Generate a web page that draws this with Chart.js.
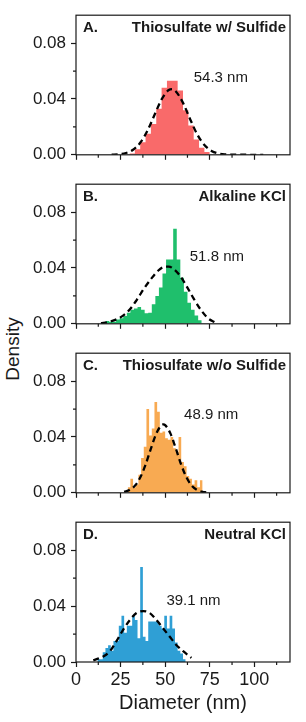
<!DOCTYPE html>
<html>
<head>
<meta charset="utf-8">
<script src="https://cdn.jsdelivr.net/npm/chart.js@4.4.1/dist/chart.umd.min.js"></script>
<style>
  body { margin: 0; background: #fff; width: 306px; height: 722px; position: relative; overflow: hidden; font-family: "Liberation Sans", Arial, sans-serif; }
  .panel { position: absolute; left: 0; width: 306px; }
  #density { position: absolute; left: 13px; top: 349px; transform: translate(-50%, -50%) rotate(-90deg); font-size: 19px; color: #1a1a1a; white-space: nowrap; }
</style>
</head>
<body>
<div id="density">Density</div>
<div class="panel" style="top:0px;height:170px"><canvas id="panelA"></canvas></div>
<div class="panel" style="top:169px;height:170px"><canvas id="panelB"></canvas></div>
<div class="panel" style="top:338px;height:170px"><canvas id="panelC"></canvas></div>
<div class="panel" style="top:507px;height:215px"><canvas id="panelD"></canvas></div>
<script>
// panel text
const panelLetters = ['A.', 'B.', 'C.', 'D.'];
const panelTitles = ['Thiosulfate w/ Sulfide', 'Alkaline KCl', 'Thiosulfate w/o Sulfide', 'Neutral KCl'];
const meanLabels = ['54.3 nm', '51.8 nm', '48.9 nm', '39.1 nm'];

// axis ticks
const xTicks = [0, 25, 50, 75, 100];
const yTicks = [0, 0.04, 0.08];
const xMinor = [12.5, 37.5, 62.5, 87.5, 112.5];
const yMinor = [0.02, 0.06];

// histogram bin edges (nm) and densities, one more edge than heights
const edgesA = [30, 33, 36, 39, 42, 45, 48, 51, 54, 57, 60, 63, 66, 69, 72, 75];
const densA = [0.001, 0.004, 0.009, 0.015, 0.022, 0.033, 0.048, 0.053, 0.053, 0.046, 0.032, 0.021, 0.011, 0.005, 0.002];
const fitXA = [20, 24, 28, 32, 36, 40, 44, 48, 52, 54, 56, 60, 64, 68, 72, 76, 80, 84, 90, 100, 105];
const fitYA = [0.0001, 0.0004, 0.0013, 0.0036, 0.0086, 0.0171, 0.0285, 0.0397, 0.0464, 0.047, 0.0454, 0.0372, 0.0255, 0.0146, 0.007, 0.0028, 0.0009, 0.0003, 0.0001, 0, 0];

const edgesB = [14.5, 16.5, 18.5, 20.5, 22.5, 24.5, 26.5, 28.5, 30.5, 32.5, 34.5, 36.5, 38.5, 40.5, 42.5, 44.5, 46.5, 48.5, 50.5, 52.5, 54.5, 56.5, 58.5, 60.5, 62.5, 64.5, 66.5, 68.5, 70.5];
const densB = [0.001, 0.002, 0.0015, 0.0015, 0.003, 0.004, 0.0055, 0.008, 0.010, 0.011, 0.012, 0.010, 0.0075, 0.008, 0.014, 0.020, 0.026, 0.036, 0.046, 0.046, 0.068, 0.046, 0.033, 0.023, 0.015, 0.010, 0.006, 0.0026];
const fitXB = [14, 18, 22, 26, 30, 34, 38, 42, 46, 50, 52, 54, 58, 62, 66, 70, 74, 78];
const fitYB = [0.0005, 0.0012, 0.0028, 0.0055, 0.010, 0.017, 0.025, 0.032, 0.038, 0.041, 0.041, 0.040, 0.035, 0.027, 0.018, 0.010, 0.004, 0.001];

const edgesC = [29, 30.5, 32, 33.5, 35, 36.5, 38, 39.5, 41, 42.5, 44, 45.5, 47, 48.5, 50, 51.5, 53, 54.5, 56, 57.5, 59, 60.5, 62, 63.5, 65, 66.5, 68, 69.5, 71];
const densC = [0.004, 0.010, 0.004, 0.006, 0.013, 0.025, 0.033, 0.060, 0.041, 0.046, 0.065, 0.058, 0.043, 0.044, 0.039, 0.038, 0.040, 0.032, 0.029, 0.040, 0.022, 0.019, 0.012, 0.010, 0.006, 0.009, 0.004, 0.009];
const fitXC = [27, 30, 33, 36, 39, 42, 45, 48, 49, 50, 53, 56, 59, 62, 65, 68, 71, 73];
const fitYC = [0.0007, 0.002, 0.005, 0.0109, 0.0201, 0.0316, 0.0424, 0.0485, 0.049, 0.0485, 0.0424, 0.0316, 0.0201, 0.0109, 0.005, 0.002, 0.0007, 0.0003];

const edgesD = [12, 13.5, 15, 16.5, 18, 19.5, 21, 22.5, 24, 25.5, 27, 28.5, 30, 31.5, 33, 34.5, 36, 37.5, 39, 40.5, 42, 43.5, 45, 46.5, 48, 49.5, 51, 52.5, 54, 55.5, 57, 58.5, 60, 61.5];
const densD = [0.002, 0.002, 0.007, 0.010, 0.012, 0.008, 0.015, 0.015, 0.026, 0.033, 0.021, 0.026, 0.026, 0.033, 0.030, 0.017, 0.068, 0.018, 0.015, 0.029, 0.029, 0.029, 0.029, 0.026, 0.024, 0.033, 0.024, 0.033, 0.024, 0.014, 0.008, 0.006, 0.002];
const fitXD = [9.7, 15.3, 19, 22.7, 26.4, 30.2, 33.9, 37.7, 41.4, 45.1, 48.9, 52.6, 56.4, 60.1, 64.7];
const fitYD = [0.0012, 0.004, 0.0077, 0.0149, 0.023, 0.030, 0.035, 0.0364, 0.035, 0.030, 0.024, 0.018, 0.012, 0.0077, 0.003];

const panels = [
    { id: 'panelA', edges: edgesA, dens: densA, fitX: fitXA, fitY: fitYA, color: '#f96a6a', meanX: 66, meanY: 0.0524 },
    { id: 'panelB', edges: edgesB, dens: densB, fitX: fitXB, fitY: fitYB, color: '#1fbf6c', meanX: 63.8, meanY: 0.045 },
    { id: 'panelC', edges: edgesC, dens: densC, fitX: fitXC, fitY: fitYC, color: '#f8aa52', meanX: 60.6, meanY: 0.0529 },
    { id: 'panelD', edges: edgesD, dens: densD, fitX: fitXD, fitY: fitYD, color: '#2f9fd5', meanX: 50.7, meanY: 0.041 },
];

const ink = '#1a1a1a';
const font = '"Liberation Sans", Arial, sans-serif';

// frame, minor ticks and in-panel text
const panelDecor = {
    id: 'panelDecor',
    afterDraw(chart, args, opts) {
        const { ctx, chartArea: a, scales } = chart;
        ctx.save();
        ctx.strokeStyle = ink;
        ctx.lineWidth = 1.2;
        ctx.strokeRect(a.left, a.top, a.right - a.left, a.bottom - a.top);
        ctx.beginPath();
        xMinor.forEach(v => {
            const x = scales.x.getPixelForValue(v);
            ctx.moveTo(x, a.bottom); ctx.lineTo(x, a.bottom + 3);
        });
        yMinor.forEach(v => {
            const y = scales.y.getPixelForValue(v);
            ctx.moveTo(a.left, y); ctx.lineTo(a.left - 3, y);
        });
        ctx.stroke();
        ctx.fillStyle = ink;
        ctx.textBaseline = 'alphabetic';
        ctx.font = 'bold 15px ' + font;
        ctx.textAlign = 'left';
        ctx.fillText(opts.letter, a.left + 7, a.top + 17);
        ctx.textAlign = 'right';
        ctx.fillText(opts.title, a.right - 4, a.top + 17);
        ctx.font = '15px ' + font;
        ctx.textAlign = 'left';
        ctx.fillText(opts.mean, scales.x.getPixelForValue(opts.meanX), scales.y.getPixelForValue(opts.meanY));
        ctx.restore();
    }
};

panels.forEach((p, i) => {
    const last = i === panels.length - 1;
    const steps = p.edges.map((e, k) => ({ x: e, y: k < p.dens.length ? p.dens[k] : 0 }));
    const fit = p.fitX.map((x, k) => ({ x: x, y: p.fitY[k] }));
    new Chart(document.getElementById(p.id), {
        type: 'line',
        data: {
            datasets: [
                {
                    data: fit,
                    borderColor: '#000',
                    borderWidth: 2.3,
                    borderDash: [6, 4],
                    pointRadius: 0,
                    tension: 0.4,
                    cubicInterpolationMode: 'monotone',
                    fill: false
                },
                {
                    data: steps,
                    stepped: 'before',
                    borderWidth: 0,
                    borderColor: p.color,
                    backgroundColor: p.color,
                    pointRadius: 0,
                    fill: 'origin'
                }
            ]
        },
        options: {
            responsive: true,
            maintainAspectRatio: false,
            animation: false,
            layout: { padding: { top: 15, right: 16, left: 0, bottom: 0 } },
            plugins: {
                legend: { display: false },
                tooltip: { enabled: false },
                panelDecor: { letter: panelLetters[i], title: panelTitles[i], mean: meanLabels[i], meanX: p.meanX, meanY: p.meanY }
            },
            scales: {
                x: {
                    type: 'linear',
                    min: 0,
                    max: 120,
                    afterFit: s => { s.height = last ? 60 : 15; },
                    afterBuildTicks: s => { s.ticks = xTicks.map(v => ({ value: v })); },
                    border: { display: false },
                    grid: { drawOnChartArea: false, drawTicks: true, tickLength: 5, tickColor: ink, tickWidth: 1.2 },
                    ticks: { display: last, color: ink, padding: 2, font: { family: font, size: 18 }, maxRotation: 0 },
                    title: { display: last, text: 'Diameter (nm)', color: ink, font: { family: font, size: 20 }, padding: { top: 2, bottom: 7 } }
                },
                y: {
                    min: 0,
                    max: 0.1,
                    afterFit: s => { s.width = 76; },
                    afterBuildTicks: s => { s.ticks = yTicks.map(v => ({ value: v })); },
                    border: { display: false },
                    grid: { drawOnChartArea: false, drawTicks: true, tickLength: 5, tickColor: ink, tickWidth: 1.2 },
                    ticks: { color: ink, padding: 5, font: { family: font, size: 17 }, callback: v => v.toFixed(2) }
                }
            }
        },
        plugins: [panelDecor]
    });
});
</script>
</body>
</html>
